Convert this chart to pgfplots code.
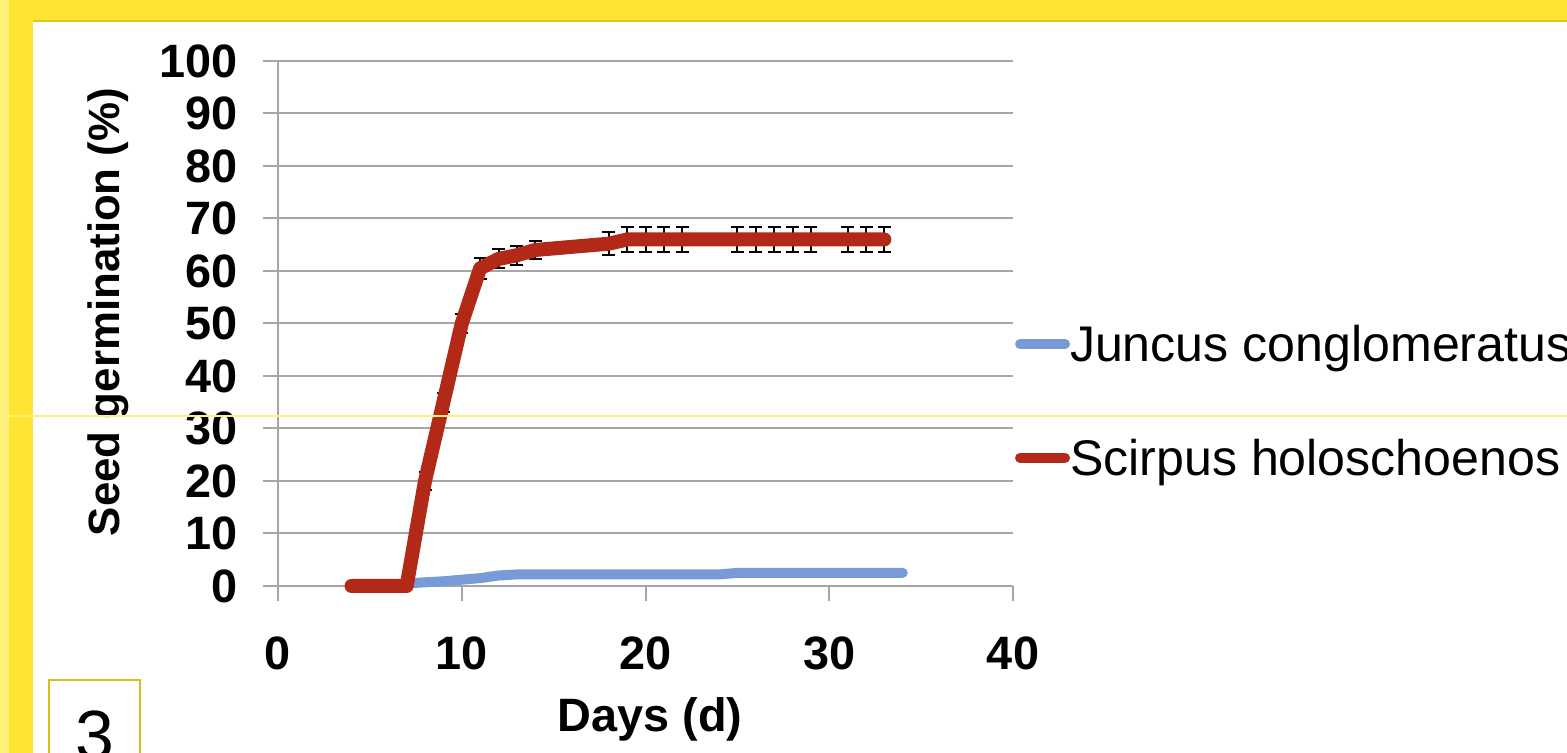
\documentclass[border=0pt]{standalone}
\usepackage{fontspec}
\setmainfont{Liberation Sans}
\usepackage{pgfplots}
\usepackage{pgfplotstable}
\pgfplotsset{compat=1.18}

\definecolor{yel}{HTML}{FFE433}
\definecolor{yellight}{HTML}{FFF07A}
\definecolor{yeldark}{HTML}{E2C51E}
\definecolor{boxgold}{HTML}{D9BE1A}
\definecolor{thinyel}{HTML}{FFF176}
\definecolor{gridg}{HTML}{A6A6A6}
\definecolor{jblue}{HTML}{789BD8}
\definecolor{sred}{HTML}{B22A17}

\pgfplotstableread{
x y
4 0
5 0
6 0
7 0.5
8 0.7
9 0.9
10 1.2
11 1.5
12 2.0
13 2.2
14 2.2
18 2.2
19 2.2
20 2.2
21 2.2
22 2.2
24 2.2
25 2.5
26 2.5
27 2.5
28 2.5
29 2.5
31 2.5
32 2.5
33 2.5
34 2.5
}\juncus

\pgfplotstableread{
x y e
4 0 0
5 0 0
6 0 0
7 0 0
8 20 1.8
9 35 1.8
10 50 1.8
11 60.5 2.0
12 62.3 1.8
13 63 1.8
14 64 1.8
18 65.2 2.2
19 66 2.3
20 66 2.3
21 66 2.3
22 66 2.3
25 66 2.3
26 66 2.3
27 66 2.3
28 66 2.3
29 66 2.3
31 66 2.3
32 66 2.3
33 66 2.3
}\scirpus

\begin{document}
\begin{tikzpicture}[x=1bp,y=1bp]
\useasboundingbox (0,0) rectangle (1567,753);
\clip (0,0) rectangle (1567,753);
\fill[yel] (0,0) rectangle (1567,753);
\fill[yellight] (0,0) rectangle (9,753);
\fill[white] (33,0) rectangle (1567,731);
\draw[yeldark, line width=2bp] (33,732) -- (1567,732);
\draw[boxgold, line width=1.5bp] (49,-5) rectangle (140,73);
\node[font=\fontsize{70}{84}\selectfont, anchor=base, inner sep=0pt] at (95,-7) {3};

\begin{axis}[
  at={(278bp,167bp)}, anchor=south west,
  scale only axis, width=735bp, height=525bp,
  xmin=0, xmax=40, ymin=0, ymax=100,
  xtick={0,10,...,40}, ytick={0,10,...,100},
  axis lines*=left,
  axis line style={gridg, line width=2bp, -},
  ymajorgrids, grid style={gridg, line width=2bp},
  tick style={gridg, line width=2bp},
  tick align=outside, major tick length=15bp,
  /pgf/number format/assume math mode=true,
  ticklabel style={font=\fontsize{47}{56}\selectfont\bfseries},
  xticklabel style={yshift=-32bp},
  yticklabel style={xshift=-22bp},
  xlabel={Days (d)},
  ylabel={Seed germination (\%)},
  xlabel style={font=\fontsize{47}{56}\selectfont\bfseries, at={(axis description cs:0.506,-0.255)}, anchor=center},
  ylabel style={font=\fontsize{44}{53}\selectfont\bfseries, at={(axis description cs:-0.231,0.522)}, anchor=center, rotate=0},
  legend style={draw=none, fill=none, at={(axis description cs:1.0025,0.3524)}, anchor=west,
    font=\fontsize{50.3}{60}\selectfont, row sep=76bp, inner sep=0pt, nodes={inner sep=0pt}},
  legend cell align=left,
  legend image code/.code={\draw[#1, line width=10bp, line cap=round] (0bp,0bp) -- (45bp,0bp);},
  /tikz/every odd column/.append style={column sep=0bp},
  clip=false,
]
\addplot[jblue, line width=10bp, line cap=round, line join=round] table[x=x,y=y] {\juncus};
\addlegendentry{Juncus conglomeratus}
\addplot[draw=none, forget plot,
  error bars/.cd, y dir=both, y explicit,
  error bar style={black, line width=2bp},
  error mark options={black, line width=2bp, mark size=6.5bp, rotate=90}]
  table[x=x,y=y,y error=e] {\scirpus};
\addplot[sred, line width=14bp, line cap=round, line join=round] table[x=x,y=y] {\scirpus};
\addlegendentry{Scirpus holoschoenos}
\end{axis}
\draw[thinyel, line width=1.5bp] (0,337) -- (1567,337);
\end{tikzpicture}
\end{document}
